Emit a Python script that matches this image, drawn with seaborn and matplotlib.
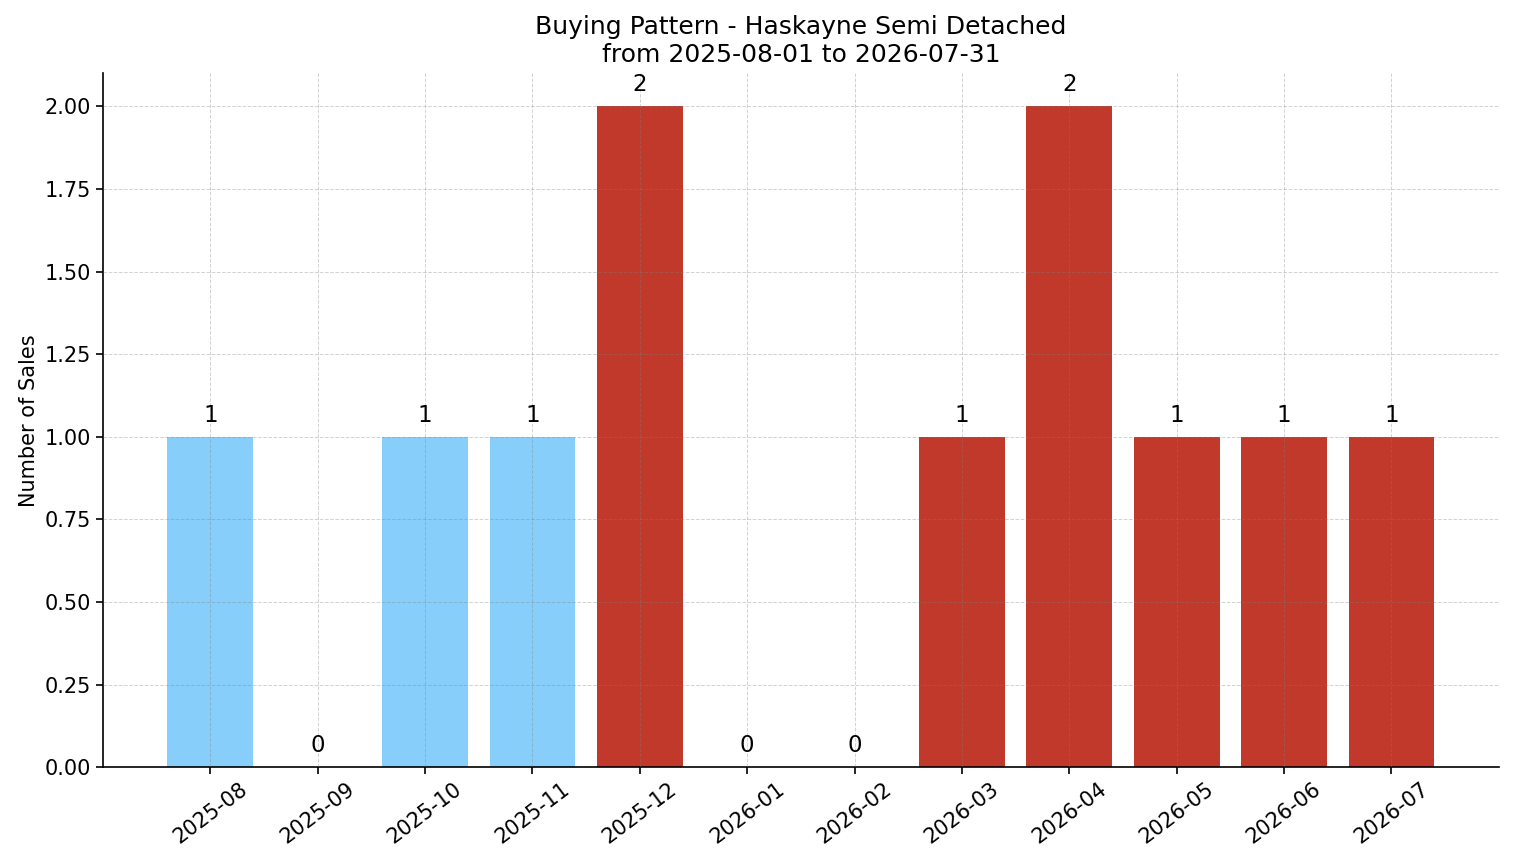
import matplotlib
matplotlib.use("Agg")
import matplotlib.pyplot as plt
import seaborn as sns

months = ["2025-08", "2025-09", "2025-10", "2025-11", "2025-12", "2026-01",
          "2026-02", "2026-03", "2026-04", "2026-05", "2026-06", "2026-07"]
sales = [1, 0, 1, 1, 2, 0, 0, 1, 2, 1, 1, 1]
bar_colors = ["#87CEFA"] * 4 + ["#C0392B"] * 8

sns.set_style("ticks", {"axes.edgecolor": "black", "text.color": "black",
                        "axes.labelcolor": "black", "xtick.color": "black",
                        "ytick.color": "black"})
plt.rcParams["font.family"] = ["DejaVu Sans"]

fig, ax = plt.subplots(figsize=(15.14, 8.63), dpi=100)
sns.barplot(x=months, y=sales, hue=months, palette=bar_colors, legend=False,
            width=0.8, saturation=1, linewidth=0, ax=ax)

for i, v in enumerate(sales):
    ax.text(i, v + 0.03, str(v), ha="center", va="bottom", fontsize=16.5)

ax.set_xlim(-1, 12)
ax.set_ylim(0, 2.1)
ax.set_axisbelow(False)
ax.grid(True, linestyle="--", alpha=0.35, color="gray", linewidth=0.7)
ax.set_ylabel("Number of Sales", fontsize=15)
ax.set_xlabel("")
ax.set_title("Buying Pattern - Haskayne Semi Detached\nfrom 2025-08-01 to 2026-07-31",
             fontsize=18, pad=8)
ax.yaxis.set_major_formatter(matplotlib.ticker.FormatStrFormatter("%.2f"))
ax.tick_params(axis="both", labelsize=15, length=5, width=1.2)
for s in ax.spines.values():
    s.set_linewidth(1.2)
plt.setp(ax.get_xticklabels(), rotation=37)
sns.despine(ax=ax)

fig.subplots_adjust(left=0.068, right=0.99, top=0.915, bottom=0.111)
fig.savefig("out.png", dpi=100)
